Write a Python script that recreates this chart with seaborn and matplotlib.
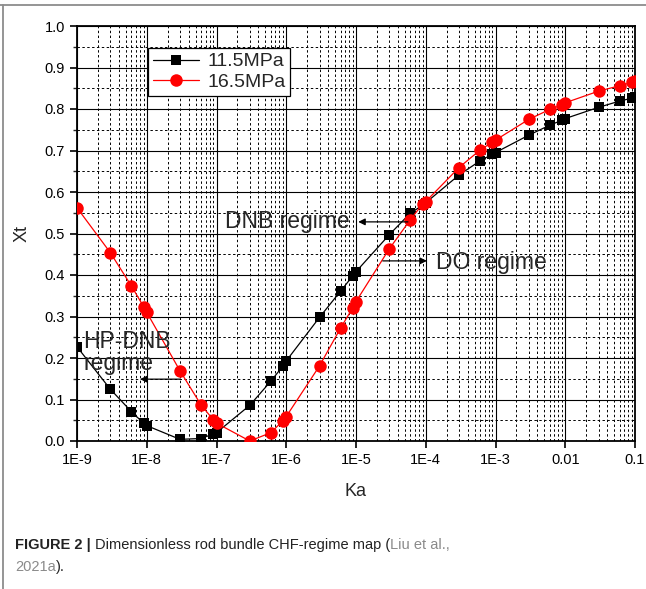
import numpy as np
import pandas as pd
import matplotlib
matplotlib.use("Agg")
import matplotlib.pyplot as plt
from matplotlib.lines import Line2D
from matplotlib.ticker import LogLocator, FixedLocator, FixedFormatter, MultipleLocator
import seaborn as sns

ka = [1e-9, 3e-9, 6e-9, 9e-9, 1e-8, 3e-8, 6e-8, 9e-8, 1e-7, 3e-7, 6e-7, 9e-7,
      1e-6, 3e-6, 6e-6, 9e-6, 1e-5, 3e-5, 6e-5, 9e-5, 1e-4, 3e-4, 6e-4, 9e-4,
      1e-3, 3e-3, 6e-3, 9e-3, 1e-2, 3e-2, 6e-2, 9e-2, 1e-1]
xt_115 = [0.227, 0.125, 0.071, 0.043, 0.037, 0.004, 0.006, 0.017, 0.020, 0.086, 0.144, 0.181,
          0.193, 0.298, 0.361, 0.398, 0.408, 0.497, 0.549, 0.568, 0.574, 0.641, 0.675, 0.691,
          0.695, 0.737, 0.761, 0.773, 0.777, 0.804, 0.819, 0.826, 0.829]
xt_165 = [0.562, 0.454, 0.374, 0.324, 0.310, 0.169, 0.087, 0.051, 0.043, 0.000, 0.020, 0.049,
          0.059, 0.181, 0.272, 0.321, 0.336, 0.463, 0.533, 0.571, 0.577, 0.659, 0.701, 0.720,
          0.725, 0.775, 0.799, 0.810, 0.815, 0.843, 0.856, 0.864, 0.868]
series_names = ["11.5MPa", "16.5MPa"]
x_tick_vals = [1e-9, 1e-8, 1e-7, 1e-6, 1e-5, 1e-4, 1e-3, 1e-2, 1e-1]
x_tick_labels = ["1E-9", "1E-8", "1E-7", "1E-6", "1E-5", "1E-4", "1E-3", "0.01", "0.1"]
y_tick_vals = [0.0, 0.1, 0.2, 0.3, 0.4, 0.5, 0.6, 0.7, 0.8, 0.9, 1.0]

df = pd.concat([
    pd.DataFrame({"Ka": ka, "Xt": xt_115, "P": series_names[0]}),
    pd.DataFrame({"Ka": ka, "Xt": xt_165, "P": series_names[1]}),
])

sns.set_style("white")
plt.rcParams["font.family"] = ["Liberation Sans", "DejaVu Sans"]

fig = plt.figure(figsize=(6.46, 5.89), dpi=100)
ax = fig.add_axes([77/646, 1-441/589, (635-77)/646, (441-26)/589])

sns.lineplot(data=df, x="Ka", y="Xt", hue="P", style="P",
             palette={series_names[0]: "black", series_names[1]: "#ff0000"},
             markers={series_names[0]: "s", series_names[1]: "o"},
             dashes=False, linewidth=0.9, ax=ax, zorder=5,
             markeredgewidth=0)
for ln in ax.lines:
    ln.set_clip_on(True)
    if ln.get_marker() == "s":
        ln.set_markersize(7.5)
    elif ln.get_marker() == "o":
        ln.set_markersize(9)

ax.set_xscale("log")
ax.set_xlim(1e-9, 1e-1)
ax.set_ylim(0, 1.0)
ax.xaxis.set_major_locator(FixedLocator(x_tick_vals))
ax.xaxis.set_major_formatter(FixedFormatter(x_tick_labels))
ax.xaxis.set_minor_locator(LogLocator(base=10, subs=np.arange(2, 10), numticks=100))
ax.yaxis.set_major_locator(FixedLocator(y_tick_vals))
ax.yaxis.set_major_formatter(FixedFormatter([f"{v:.1f}" for v in y_tick_vals]))
ax.yaxis.set_minor_locator(MultipleLocator(0.05))
ax.xaxis.set_minor_formatter(plt.NullFormatter())

ax.grid(True, which="major", color="black", linewidth=0.8, linestyle="-")
ax.grid(True, which="minor", color="black", linewidth=0.7, linestyle=(0, (2.5, 2.5)))
ax.set_axisbelow(True)

ax.tick_params(axis="both", which="major", direction="out", length=5, width=1.2,
               labelsize=10.5, colors="black", bottom=True, left=True, top=False, right=False)
ax.tick_params(axis="y", which="minor", direction="out", length=3, width=1.0, left=True)
ax.tick_params(axis="x", which="minor", length=0)
for s in ax.spines.values():
    s.set_color("black")
    s.set_linewidth(1.3)

ax.set_xlabel("Ka", fontsize=13, labelpad=12)
ax.set_ylabel("Xt", fontsize=13, labelpad=10)

leg = ax.legend(title=None, loc="upper left", bbox_to_anchor=(0.127, 0.947),
                borderaxespad=0, fancybox=False, framealpha=1, edgecolor="black",
                fontsize=14, handlelength=2.4, handletextpad=0.4, borderpad=0.25,
                labelspacing=0.15)
leg.get_frame().set_linewidth(0.9)
leg.set_zorder(10)

arrow = dict(arrowstyle="-|>", color="black", lw=0.9, mutation_scale=10, shrinkA=0, shrinkB=0)
ax.text(0.265, 0.528, "DNB regime", transform=ax.transAxes, fontsize=16.5,
        va="center", ha="left", zorder=8)
ax.annotate("", xy=(0.504, 0.528), xytext=(0.593, 0.528), xycoords="axes fraction",
            textcoords="axes fraction", arrowprops=arrow, zorder=8)
ax.text(0.643, 0.429, "DO regime", transform=ax.transAxes, fontsize=16.5,
        va="center", ha="left", zorder=8)
ax.annotate("", xy=(0.627, 0.434), xytext=(0.548, 0.434), xycoords="axes fraction",
            textcoords="axes fraction", arrowprops=arrow, zorder=8)
ax.text(0.011, 0.213, "HP-DNB\nregime", transform=ax.transAxes, fontsize=16.5,
        va="center", ha="left", linespacing=0.95, zorder=8)
ax.annotate("", xy=(0.113, 0.149), xytext=(0.185, 0.149), xycoords="axes fraction",
            textcoords="axes fraction", arrowprops=arrow, zorder=8)

# outer frame lines (top and left)
fig.add_artist(Line2D([0, 1], [1-5/589, 1-5/589], transform=fig.transFigure, color="#8c8c8c", lw=1.3))
fig.add_artist(Line2D([3/646, 3/646], [0, 1-5/589], transform=fig.transFigure, color="#8c8c8c", lw=1.3))

# caption
fig.canvas.draw()
r = fig.canvas.get_renderer()
cap_pieces = [("FIGURE 2 | ", "bold", "#222222"),
              ("Dimensionless rod bundle CHF-regime map (", "normal", "#222222"),
              ("Liu et al.,", "normal", "#8a8a8a")]
x0 = 15 / 646
y1 = 1 - 545 / 589
for txt, wt, col in cap_pieces:
    t = fig.text(x0, y1, txt, fontsize=10.5, fontweight=wt, color=col, va="center", ha="left")
    bb = t.get_window_extent(renderer=r)
    x0 += bb.width / fig.bbox.width
x0 = 15 / 646
y2 = 1 - 567 / 589
for txt, wt, col in [("2021a", "normal", "#8a8a8a"), (").", "normal", "#222222")]:
    t = fig.text(x0, y2, txt, fontsize=10.5, fontweight=wt, color=col, va="center", ha="left")
    bb = t.get_window_extent(renderer=r)
    x0 += bb.width / fig.bbox.width

fig.savefig("out.png", dpi=100)
